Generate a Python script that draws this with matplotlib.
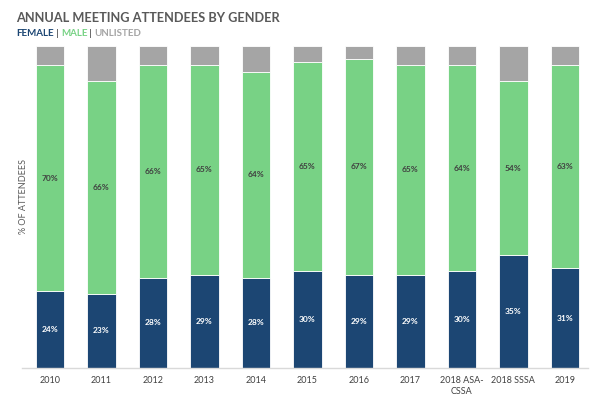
import matplotlib
matplotlib.use("Agg")
import matplotlib.pyplot as plt
import numpy as np

plt.rcParams['font.family'] = ['Lato', 'DejaVu Sans']

years = ['2010', '2011', '2012', '2013', '2014', '2015', '2016', '2017',
         '2018 ASA-\nCSSA', '2018 SSSA', '2019']
female = [24, 23, 28, 29, 28, 30, 29, 29, 30, 35, 31]
male = [70, 66, 66, 65, 64, 65, 67, 65, 64, 54, 63]
unlisted = [100 - f - m for f, m in zip(female, male)]

c_female = '#1c4673'
c_male = '#78d285'
c_unl = '#a5a5a5'

fig = plt.figure(figsize=(6, 4), dpi=100)
ax = fig.add_axes([0.037, 0.08, 0.943, 0.805])

x = np.arange(len(years))
w = 0.55
male_bottom = np.array(female)
unl_bottom = male_bottom + np.array(male)
ax.bar(x, female, w, color=c_female, edgecolor='white', linewidth=0.6)
ax.bar(x, male, w, bottom=male_bottom, color=c_male, edgecolor='white', linewidth=0.6)
ax.bar(x, unlisted, w, bottom=unl_bottom, color=c_unl, edgecolor='white', linewidth=0.6)

for i in x:
    ax.text(i, female[i] / 2, f'{female[i]}%', ha='center', va='center',
            color='white', fontsize=6, fontweight='bold')
    ax.text(i, male_bottom[i] + male[i] / 2, f'{male[i]}%', ha='center', va='center',
            color='#404040', fontsize=6, fontweight='bold')

ax.set_xlim(-0.54, 10.45)
ax.set_ylim(0, 100)
ax.set_xticks(x)
ax.set_xticklabels(years, fontsize=6.5, color='#404040', linespacing=1.3)
ax.tick_params(axis='x', length=0, pad=6)
ax.set_yticks([])
for s in ['top', 'right', 'left']:
    ax.spines[s].set_visible(False)
ax.spines['bottom'].set_color('#d9d9d9')
ax.spines['bottom'].set_linewidth(1)

fig.text(0.04, 0.51, '% OF ATTENDEES', rotation=90, ha='center', va='center',
         fontsize=6.5, color='#595959')

fig.text(0.027, 0.955, 'ANNUAL MEETING ATTENDEES BY GENDER', fontsize=9.2,
         color='#595959', fontweight='bold', va='center')

# subtitle with coloured words
parts = [('FEMALE', c_female), (' | ', '#595959'), ('MALE', c_male),
         (' | ', '#595959'), ('UNLISTED', c_unl)]
fig.canvas.draw()
r = fig.canvas.get_renderer()
xpos = 0.027
for txt, col in parts:
    t = fig.text(xpos, 0.917, txt, fontsize=7, color=col, fontweight='bold', va='center')
    bb = t.get_window_extent(renderer=r)
    xpos += bb.width / fig.bbox.width

fig.savefig('out.png', dpi=100)
